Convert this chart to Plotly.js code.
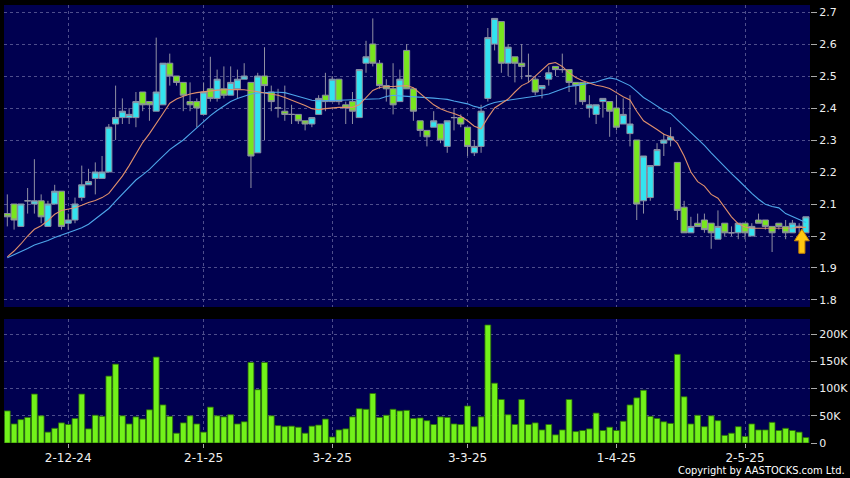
<!DOCTYPE html>
<html>
<head>
<meta charset="utf-8">
<script src="https://cdn.plot.ly/plotly-3.0.1.min.js"></script>
<style>html,body{margin:0;padding:0;background:#000;}#chart{width:850px;height:478px;}</style>
</head>
<body>
<div id="chart"></div>
<script>
// ---- data (19-11-24 .. 16-5-25, 119 sessions) ----
const openP  = [2.07,2.10,2.03,2.11,2.10,2.11,2.03,2.10,2.14,2.04,2.05,2.12,2.16,2.18,2.18,2.20,2.35,2.37,2.37,2.37,
                2.45,2.42,2.39,2.41,2.54,2.50,2.48,2.42,2.42,2.38,2.46,2.43,2.46,2.44,2.46,2.49,2.48,2.26,2.50,2.45,
                2.40,2.39,2.38,2.38,2.36,2.35,2.38,2.44,2.42,2.49,2.41,2.42,2.37,2.54,2.60,2.54,2.47,2.46,2.42,2.58,
                2.46,2.36,2.33,2.34,2.35,2.28,2.37,2.37,2.34,2.26,2.28,2.43,2.60,2.67,2.54,2.56,2.54,2.50,2.49,2.46,
                2.49,2.53,2.52,2.52,2.48,2.48,2.40,2.38,2.42,2.42,2.40,2.35,2.32,2.30,2.11,2.12,2.22,2.29,2.30,2.23,
                2.09,2.01,2.04,2.05,2.04,1.99,2.04,2.01,2.01,2.04,2.00,2.05,2.05,2.03,2.04,2.03,2.01,2.03,2.01];
const highP  = [2.13,2.10,2.10,2.15,2.24,2.13,2.11,2.16,2.14,2.07,2.12,2.22,2.21,2.23,2.25,2.35,2.47,2.43,2.40,2.45,
                2.45,2.42,2.62,2.54,2.57,2.50,2.48,2.48,2.43,2.48,2.56,2.52,2.53,2.53,2.52,2.54,2.48,2.51,2.59,2.47,
                2.46,2.47,2.41,2.38,2.36,2.37,2.44,2.51,2.50,2.49,2.42,2.45,2.52,2.61,2.68,2.55,2.49,2.54,2.52,2.60,
                2.46,2.36,2.33,2.39,2.35,2.36,2.40,2.38,2.34,2.30,2.41,2.65,2.68,2.67,2.60,2.56,2.60,2.57,2.50,2.47,
                2.53,2.53,2.57,2.52,2.48,2.48,2.44,2.41,2.43,2.42,2.44,2.43,2.44,2.30,2.25,2.22,2.29,2.32,2.34,2.23,
                2.11,2.06,2.07,2.07,2.04,2.08,2.04,2.03,2.04,2.04,2.04,2.07,2.05,2.03,2.04,2.05,2.05,2.04,2.06];
const lowP   = [2.03,2.02,2.03,2.07,2.07,2.04,2.03,2.10,2.02,2.02,2.04,2.11,2.16,2.13,2.18,2.20,2.30,2.35,2.35,2.34,
                2.39,2.36,2.39,2.41,2.47,2.47,2.39,2.39,2.34,2.38,2.42,2.42,2.43,2.44,2.43,2.49,2.15,2.26,2.30,2.39,
                2.37,2.36,2.35,2.35,2.33,2.34,2.38,2.39,2.42,2.41,2.35,2.35,2.37,2.51,2.53,2.46,2.42,2.38,2.42,2.46,
                2.36,2.31,2.28,2.34,2.29,2.26,2.33,2.34,2.25,2.25,2.26,2.42,2.58,2.51,2.50,2.48,2.49,2.48,2.44,2.43,
                2.47,2.50,2.51,2.45,2.41,2.41,2.37,2.35,2.37,2.31,2.33,2.35,2.28,2.05,2.07,2.11,2.22,2.25,2.28,2.05,
                2.01,2.01,2.03,2.01,1.96,1.99,2.00,2.00,1.99,1.99,2.00,2.04,2.02,1.95,2.02,1.99,2.01,2.01,2.01];
const closeP = [2.06,2.05,2.10,2.11,2.11,2.06,2.10,2.14,2.03,2.05,2.10,2.16,2.17,2.20,2.20,2.34,2.37,2.39,2.38,2.42,
                2.41,2.41,2.45,2.54,2.50,2.48,2.44,2.41,2.40,2.45,2.43,2.49,2.44,2.48,2.49,2.50,2.25,2.50,2.47,2.42,
                2.40,2.38,2.38,2.36,2.35,2.37,2.43,2.42,2.49,2.42,2.40,2.39,2.52,2.56,2.54,2.47,2.46,2.41,2.49,2.46,
                2.39,2.33,2.31,2.36,2.30,2.36,2.37,2.35,2.28,2.28,2.39,2.62,2.68,2.54,2.59,2.54,2.53,2.50,2.45,2.47,
                2.51,2.52,2.52,2.48,2.47,2.42,2.41,2.41,2.43,2.39,2.34,2.38,2.35,2.10,2.25,2.22,2.27,2.30,2.31,2.08,
                2.01,2.03,2.03,2.02,2.01,2.03,2.01,2.01,2.04,2.01,2.03,2.04,2.03,2.01,2.03,2.01,2.04,2.03,2.06];
const volume = [59000,35000,43000,47000,90000,50000,20000,27000,37000,34000,45000,90000,26000,51000,49000,123000,145000,50000,35000,48000,
                44000,61000,158000,70000,49000,18000,37000,50000,35000,20000,66000,50000,48000,52000,35000,39000,148000,98000,148000,50000,
                32000,30000,31000,29000,18000,31000,33000,44000,11000,24000,26000,48000,63000,62000,91000,47000,51000,62000,59000,60000,
                45000,46000,41000,34000,48000,47000,35000,34000,68000,30000,48000,217000,110000,80000,52000,34000,80000,34000,37000,24000,
                34000,15000,24000,80000,21000,23000,26000,55000,23000,29000,23000,40000,70000,83000,97000,49000,45000,39000,36000,163000,
                85000,35000,51000,30000,50000,41000,14000,18000,30000,12000,35000,24000,24000,38000,23000,27000,23000,20000,10000];
const maShort = [1.935,1.953,1.975,2.000,2.021,2.032,2.048,2.068,2.080,2.084,2.088,2.096,2.105,2.111,2.120,2.133,2.160,2.187,2.220,2.258,
                 2.292,2.320,2.350,2.383,2.415,2.428,2.437,2.444,2.448,2.451,2.454,2.456,2.457,2.458,2.458,2.457,2.455,2.451,2.447,2.443,
                 2.440,2.433,2.425,2.418,2.408,2.398,2.395,2.398,2.401,2.402,2.402,2.402,2.410,2.432,2.455,2.464,2.467,2.467,2.468,2.470,
                 2.463,2.445,2.430,2.410,2.398,2.389,2.383,2.374,2.360,2.343,2.335,2.370,2.400,2.415,2.428,2.450,2.470,2.480,2.500,2.518,
                 2.538,2.542,2.530,2.510,2.495,2.485,2.478,2.471,2.467,2.461,2.448,2.435,2.425,2.390,2.360,2.347,2.333,2.318,2.310,2.290,
                 2.250,2.200,2.170,2.156,2.130,2.118,2.090,2.060,2.038,2.028,2.024,2.024,2.024,2.024,2.023,2.023,2.025,2.027,2.027];
const maLong  = [1.932,1.941,1.951,1.961,1.972,1.978,1.986,1.995,2.002,2.009,2.018,2.026,2.037,2.053,2.069,2.086,2.109,2.130,2.151,2.175,
                 2.191,2.208,2.229,2.250,2.270,2.285,2.300,2.319,2.338,2.358,2.376,2.392,2.407,2.420,2.430,2.438,2.444,2.447,2.449,2.449,
                 2.449,2.448,2.442,2.436,2.430,2.424,2.422,2.423,2.424,2.425,2.425,2.425,2.426,2.427,2.428,2.429,2.436,2.440,2.438,2.437,
                 2.436,2.435,2.433,2.431,2.429,2.427,2.422,2.417,2.413,2.405,2.400,2.410,2.417,2.421,2.424,2.426,2.429,2.432,2.436,2.440,
                 2.444,2.452,2.460,2.467,2.470,2.473,2.477,2.481,2.488,2.494,2.490,2.480,2.470,2.452,2.433,2.420,2.405,2.392,2.383,2.363,
                 2.345,2.325,2.303,2.283,2.260,2.238,2.215,2.195,2.175,2.153,2.133,2.115,2.099,2.092,2.088,2.070,2.060,2.050,2.042];
const tickIdx  = [9, 29, 48, 68, 90, 109];
const tickText = ['2-12-24', '2-1-25', '3-2-25', '3-3-25', '1-4-25', '2-5-25'];
const priceTicks = [1.8, 1.9, 2.0, 2.1, 2.2, 2.3, 2.4, 2.5, 2.6, 2.7];
const priceTickText = ['1.8', '1.9', '2', '2.1', '2.2', '2.3', '2.4', '2.5', '2.6', '2.7'];
const volTicks = [0, 50000, 100000, 150000, 200000];
const volTickText = ['0', '50K', '100K', '150K', '200K'];

const xs = closeP.map((_, i) => i);

const GRID = '#4e4e8c';
const BG = '#000050';
const FONT = 'DejaVu Sans, Verdana, sans-serif';

const traces = [
  {
    type: 'candlestick', x: xs, open: openP, high: highP, low: lowP, close: closeP,
    xaxis: 'x', yaxis: 'y', whiskerwidth: 0,
    increasing: { fillcolor: '#33e3f0', line: { color: '#8f8fa3', width: 1 } },
    decreasing: { fillcolor: '#78e61e', line: { color: '#8f8fa3', width: 1 } },
    hoverinfo: 'skip', showlegend: false
  },
  { type: 'scatter', mode: 'lines', x: xs, y: maLong, xaxis: 'x', yaxis: 'y',
    line: { color: '#4ea6ea', width: 1.1 }, hoverinfo: 'skip', showlegend: false },
  { type: 'scatter', mode: 'lines', x: xs, y: maShort, xaxis: 'x', yaxis: 'y',
    line: { color: '#e0906c', width: 1.1 }, hoverinfo: 'skip', showlegend: false },
  { type: 'bar', x: xs, y: volume, xaxis: 'x2', yaxis: 'y2', width: 0.86,
    marker: { color: '#72f21a', line: { color: '#2c6e08', width: 0.8 } },
    hoverinfo: 'skip', showlegend: false }
];

const xCommon = {
  range: [-0.49, 118.6], tickmode: 'array', tickvals: tickIdx,
  showgrid: true, gridcolor: GRID, griddash: '3px,3px', gridwidth: 1,
  zeroline: false, showline: false, fixedrange: true
};

const layout = {
  width: 850, height: 478,
  paper_bgcolor: '#000000', plot_bgcolor: BG,
  margin: { l: 4, r: 40, t: 5, b: 35, pad: 0 },
  font: { family: FONT, color: '#f0f0f0', size: 11 },
  boxgap: 0.1, boxgroupgap: 0,
  bargap: 0,
  showlegend: false,
  xaxis: Object.assign({}, xCommon, {
    domain: [0, 1], anchor: 'y', showticklabels: false, ticks: '',
    rangeslider: { visible: false }
  }),
  xaxis2: Object.assign({}, xCommon, {
    domain: [0, 1], anchor: 'y2', matches: 'x', ticktext: tickText,
    showticklabels: true, ticks: 'outside', ticklen: 4, tickcolor: '#aaaaaa',
    tickfont: { size: 12, color: '#f0f0f0', family: FONT }
  }),
  yaxis: {
    domain: [0.3105, 1], range: [1.7781, 2.7219], side: 'right',
    tickmode: 'array', tickvals: priceTicks, ticktext: priceTickText,
    ticks: 'outside', ticklen: 6, tickcolor: '#aaaaaa',
    tickfont: { size: 11, color: '#f0f0f0', family: FONT },
    showgrid: true, gridcolor: GRID, griddash: '3px,3px', zeroline: false, showline: false, fixedrange: true
  },
  yaxis2: {
    domain: [0, 0.2831], range: [0, 228000], side: 'right', anchor: 'x2',
    tickmode: 'array', tickvals: volTicks, ticktext: volTickText,
    ticks: 'outside', ticklen: 6, tickcolor: '#aaaaaa',
    tickfont: { size: 11, color: '#f0f0f0', family: FONT },
    showgrid: true, gridcolor: GRID, griddash: '3px,3px', zeroline: false, showline: false, fixedrange: true
  },
  shapes: [
    { type: 'path', xref: 'x', yref: 'y', layer: 'above',
      path: 'M 117.4 2.021 L 118.5 1.985 L 117.85 1.985 L 117.85 1.946 L 116.95 1.946 L 116.95 1.985 L 116.3 1.985 Z',
      fillcolor: '#ffc812', line: { color: '#c98400', width: 1 } }
  ],
  annotations: [
    { xref: 'paper', yref: 'paper', x: 1.046, y: -0.062, xanchor: 'right', yanchor: 'middle',
      text: 'Copyright by AASTOCKS.com Ltd.', showarrow: false,
      font: { family: 'DejaVu Sans Condensed, DejaVu Sans, sans-serif', size: 11, color: '#ffffff' } }
  ]
};

Plotly.newPlot('chart', traces, layout, { staticPlot: true, displayModeBar: false });
</script>
</body>
</html>
